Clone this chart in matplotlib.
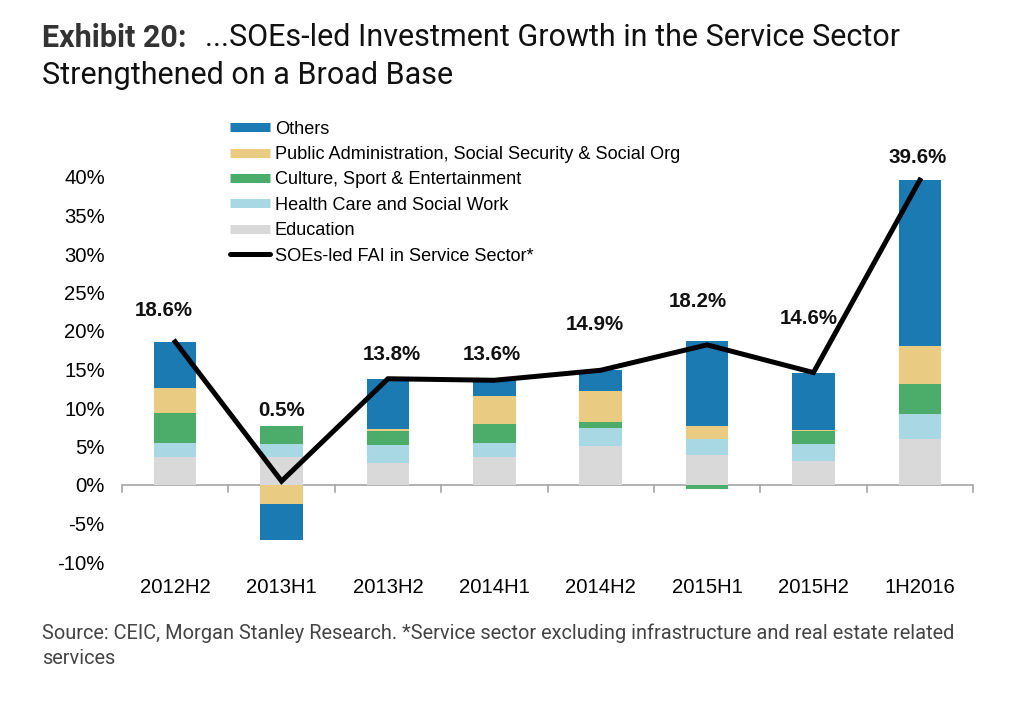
import matplotlib
matplotlib.use("Agg")
import matplotlib.pyplot as plt
from matplotlib.lines import Line2D
import numpy as np

categories = ["2012H2", "2013H1", "2013H2", "2014H1", "2014H2", "2015H1", "2015H2", "1H2016"]
education = [3.7, 3.7, 2.9, 3.7, 5.1, 3.9, 3.1, 6.0]
health = [1.8, 1.6, 2.25, 1.8, 2.35, 2.1, 2.25, 3.2]
culture = [3.8, 2.3, 1.85, 2.45, 0.7, -0.5, 1.7, 3.9]
public_admin = [3.3, -2.5, 0.3, 3.6, 4.05, 1.6, 0.15, 4.9]
others = [6.0, -4.6, 6.5, 2.05, 2.7, 11.1, 7.4, 21.6]
soe_fai = [18.6, 0.5, 13.8, 13.6, 14.9, 18.2, 14.6, 39.6]
value_labels = ["18.6%", "0.5%", "13.8%", "13.6%", "14.9%", "18.2%", "14.6%", "39.6%"]
yticks = [-10, -5, 0, 5, 10, 15, 20, 25, 30, 35, 40]

series = [
    ("Education", education, "#D9D9D9"),
    ("Health Care and Social Work", health, "#A8D8E3"),
    ("Culture, Sport & Entertainment", culture, "#4CAD6B"),
    ("Public Administration, Social Security & Social Org", public_admin, "#EACB82"),
    ("Others", others, "#1B7AB2"),
]

# label placement (layout only): lift above bar/line top in % units, x shift in px
label_lift = [4.1, 2.1, 3.1, 3.4, 5.9, 5.1, 7.0, 2.9]
label_dx = [-11, 0, 4, -3, -6, -9, -5, -2]

plt.rcParams["font.family"] = ["Liberation Sans", "DejaVu Sans"]

fig = plt.figure(figsize=(10.24, 7.03), dpi=100)
ax = fig.add_axes([122 / 1024, 1 - 562 / 703, 851 / 1024, 385 / 703])

x = np.arange(len(categories))
pos_base = np.zeros(len(categories))
neg_base = np.zeros(len(categories))
for name, vals, col in series:
    v = np.array(vals, dtype=float)
    bottoms = np.where(v >= 0, pos_base, neg_base)
    ax.bar(x, v, bottom=bottoms, width=0.4, color=col, linewidth=0, zorder=2)
    pos_base = pos_base + np.where(v >= 0, v, 0)
    neg_base = neg_base + np.where(v < 0, v, 0)

ax.plot(x, soe_fai, color="black", lw=3.6, zorder=3, solid_joinstyle="miter")

for i, lab in enumerate(value_labels):
    top = max(pos_base[i], soe_fai[i])
    ax.annotate(lab, xy=(x[i], top + label_lift[i]), xytext=(label_dx[i] * 0.72, 0),
                textcoords="offset points", ha="center", va="center",
                fontsize=14.8, fontweight="bold", color="#111111", zorder=4,
                annotation_clip=False)

ax.set_xlim(-0.5, len(categories) - 0.5)
ax.set_ylim(-10, 40)
ax.set_yticks(yticks)
ax.set_yticklabels([f"{t}%" for t in yticks], fontsize=14.6)
ax.set_xticks(x)
ax.set_xticklabels(categories, fontsize=14.6)
ax.tick_params(axis="y", length=0, pad=12.4)
ax.tick_params(axis="x", which="major", length=0, pad=11.5)
for s in ["top", "right", "left", "bottom"]:
    ax.spines[s].set_visible(False)
ax.axhline(0, color="#A6A6A6", lw=1.2, zorder=1)
for xb in np.arange(-0.5, len(categories), 1.0):
    ax.plot([xb, xb], [0, -0.9], color="#A6A6A6", lw=1.2, zorder=1, clip_on=False)

handles = [Line2D([0], [0], color=c, lw=6.5, solid_capstyle="butt") for _, _, c in series[::-1]]
handles.append(Line2D([0], [0], color="black", lw=3.6, solid_capstyle="round"))
labels = [n for n, _, _ in series[::-1]] + ["SOEs-led FAI in Service Sector*"]
ax.legend(handles, labels, loc="upper left", bbox_to_anchor=(0.1185, 1.165), frameon=False,
          fontsize=13.1, handlelength=2.2, handletextpad=0.25, labelspacing=0.46,
          borderaxespad=0)

fig.text(42 / 1024, 1 - 38 / 703, "Exhibit 20:", fontsize=22, fontweight="bold",
         family="Roboto", color="#333333", va="center")
fig.text(205 / 1024, 1 - 38 / 703, "...SOEs-led Investment Growth in the Service Sector",
         fontsize=22, family="Roboto", color="#111111", va="center")
fig.text(42 / 1024, 1 - 76 / 703, "Strengthened on a Broad Base",
         fontsize=22, family="Roboto", color="#111111", va="center")
fig.text(42 / 1024, 1 - 633 / 703,
         "Source: CEIC, Morgan Stanley Research. *Service sector excluding infrastructure and real estate related",
         fontsize=14.4, family="Roboto", color="#444444", va="center")
fig.text(42 / 1024, 1 - 658 / 703, "services", fontsize=14.4, family="Roboto",
         color="#444444", va="center")

fig.savefig("out.png", dpi=100)
